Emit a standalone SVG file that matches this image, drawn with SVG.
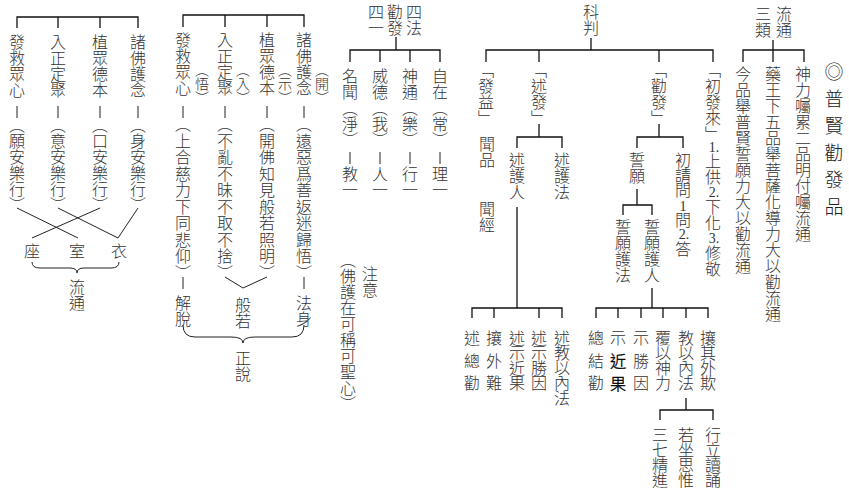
<svg xmlns="http://www.w3.org/2000/svg" width="849" height="491" viewBox="0 0 849 491">
<style>
.v{writing-mode:vertical-rl;font-family:"Noto Sans CJK TC","Noto Sans CJK JP",sans-serif;font-size:16px;font-weight:300;fill:#333}
.s{font-size:14px}
.t{font-size:19px;letter-spacing:8px;fill:#222}
.w{letter-spacing:0.5px}
.n{letter-spacing:-1px}
.sp{letter-spacing:6.5px}
.d{font-family:"Liberation Serif",serif;font-size:14px;fill:#333;text-anchor:middle}
.dk{fill:#000;stroke:#000;stroke-width:0.4}
.ln{stroke:#111;stroke-width:1.3;fill:none}
.th{stroke:#222;stroke-width:1;fill:none}
</style>
<rect width="849" height="491" fill="#fff"/>
<g id="connectors">
<path class="ln" d="M17,28V17H138V28M58,17V28M100,17V28"/>
<path class="th" d="M17,106V118M58,106V118M100,106V118M138,106V118"/>
<path class="th" d="M17,208L78,238M58,208L118,238M100,208L32,238M138,208L118,238"/>
<path class="th" d="M32,262Q32,268 40,268L70,268Q77,268 77,273Q77,268 84,268L111,268Q119,268 119,262"/>
<path class="ln" d="M183,27V15H304V27M225,15V27M267,15V27"/>
<path class="th" d="M183,106V118M225,106V118M267,106V118M304,106V118"/>
<path class="th" d="M183,277V289M304,277V289"/>
<path class="th" d="M225,277L243,288L267,277"/>
<path class="th" d="M183,325Q183,337 195,337L231,337Q243,337 243,343Q243,337 255,337L292,337Q304,337 304,325"/>
<path class="ln" d="M396,37V50M350,62V50H440V62M380,50V62M410,50V62"/>
<path class="th" d="M350,152V164M380,152V164M410,152V164M440,152V164"/>
<path class="ln" d="M591,38V50M486,62V50H713V62M539,50V62M659,50V62"/>
<path class="ln" d="M539,124V137M517,148V137H562V148"/>
<path class="ln" d="M517,207V308M472,318V308H562V318M494,308V318M539,308V318"/>
<path class="ln" d="M659,124V137M637,148V137H683V148"/>
<path class="ln" d="M637,189V205M623,215V205H652V215"/>
<path class="ln" d="M652,288V308M596,318V308H708V318M618,308V318M641,308V318M663,308V318M686,308V318"/>
<path class="ln" d="M686,398V410M660,420V410H713V420"/>
<path class="ln" d="M773,40V62M743,62V50H804V62"/>
</g>
<g id="n-liutong-left">
<text class="v" x="17" y="34">發救眾心</text>
<text class="v" x="17" y="117">︵願安樂行︶</text>
<text class="v" x="58" y="34">入正定聚</text>
<text class="v" x="58" y="117">︵意安樂行︶</text>
<text class="v" x="100" y="34">植眾德本</text>
<text class="v" x="100" y="117">︵口安樂行︶</text>
<text class="v" x="138" y="34">諸佛護念</text>
<text class="v" x="138" y="117">︵身安樂行︶</text>
</g>
<g id="n-zuo"><text class="v" x="32" y="243">座</text></g>
<g id="n-shi"><text class="v" x="77" y="243">室</text></g>
<g id="n-yi"><text class="v" x="119" y="243">衣</text></g>
<g id="n-liutong"><text class="v" x="77" y="279">流通</text></g>
<g id="n-zhengshuo-cols">
<text class="v" x="183" y="32">發救眾心</text>
<text class="v s" x="202" y="63">︵悟︶</text>
<text class="v w" x="183" y="116">︵上合慈力下同悲仰︶</text>
<text class="v" x="225" y="32">入正定聚</text>
<text class="v s" x="243" y="63">︵入︶</text>
<text class="v w" x="225" y="116">︵不亂不昧不取不捨︶</text>
<text class="v" x="267" y="32">植眾德本</text>
<text class="v s" x="285" y="63">︵示︶</text>
<text class="v w" x="267" y="116">︵開佛知見般若照明︶</text>
<text class="v" x="304" y="32">諸佛護念</text>
<text class="v s" x="322" y="63">︵開︶</text>
<text class="v w" x="304" y="116">︵遠惡爲善返迷歸悟︶</text>
</g>
<g id="n-jietuo"><text class="v" x="183" y="295">解脫</text></g>
<g id="n-bore"><text class="v" x="243" y="297">般若</text></g>
<g id="n-fashen"><text class="v" x="304" y="295">法身</text></g>
<g id="n-zhengshuo"><text class="v" x="243" y="350">正說</text></g>
<g id="n-sifa">
<text class="v" x="414" y="4">四法</text>
<text class="v" x="395" y="4">勸發</text>
<text class="v" x="376" y="4">四一</text>
</g>
<g id="n-sifa-cols">
<text class="v" x="350" y="68">名聞︵淨︶</text><text class="v" x="350" y="166">教一</text>
<text class="v" x="380" y="68">威德︵我︶</text><text class="v" x="380" y="166">人一</text>
<text class="v" x="410" y="68">神通︵樂︶</text><text class="v" x="410" y="166">行一</text>
<text class="v" x="440" y="68">自在︵常︶</text><text class="v" x="440" y="166">理一</text>
</g>
<g id="n-zhuyi">
<text class="v" x="348" y="252">︵佛護在可稱可聖心︶</text>
<text class="v" x="370" y="266">注意</text>
</g>
<g id="n-kepan"><text class="v" x="591" y="4">科判</text></g>
<g id="n-fayi">
<text class="v" x="486" y="62">﹁發益﹂</text>
<text class="v" x="487" y="136">聞品</text>
<text class="v" x="487" y="201">聞經</text>
</g>
<g id="n-shufa"><text class="v" x="539" y="62">﹁述發﹂</text></g>
<g id="n-shuhuren"><text class="v" x="517" y="152">述護人</text></g>
<g id="n-shuhufa"><text class="v" x="562" y="152">述護法</text></g>
<g id="n-shu-children">
<text class="v sp" x="472" y="330">述總勸</text>
<text class="v sp" x="494" y="330">攘外難</text>
<text class="v n" x="517" y="330">述示近果</text>
<text class="v n" x="539" y="330">述示勝因</text>
<text class="v n" x="562" y="330">述教以內法</text>
</g>
<g id="n-quanfa"><text class="v" x="659" y="62">﹁勸發﹂</text></g>
<g id="n-shiyuan"><text class="v" x="637" y="152">誓願</text></g>
<g id="n-chuqing">
<text class="v n" x="683" y="152">初請問</text>
<text class="d" x="683" y="211">1</text>
<text class="v" x="683" y="212">問</text>
<text class="d" x="684" y="239">2.</text>
<text class="v" x="683" y="241">答</text>
</g>
<g id="n-chufalai">
<text class="v" x="713" y="62">﹁初發來﹂</text>
<text class="d" x="714" y="152">1.</text>
<text class="v" x="713" y="153">上供</text>
<text class="d" x="714" y="197">2.</text>
<text class="v" x="713" y="199">下化</text>
<text class="d" x="714" y="243">3.</text>
<text class="v" x="713" y="245">修敬</text>
</g>
<g id="n-shiyuanhufa"><text class="v" x="623" y="219">誓願護法</text></g>
<g id="n-shiyuanhuren"><text class="v" x="652" y="219">誓願護人</text></g>
<g id="n-shiyuan-children">
<text class="v sp" x="596" y="330">總結勸</text>
<text class="v sp" x="618" y="330">示<tspan class="dk">近果</tspan></text>
<text class="v sp" x="641" y="330">示勝因</text>
<text class="v n" x="663" y="330">覆以神力</text>
<text class="v n" x="686" y="330">教以內法</text>
<text class="v n" x="708" y="330">攘其外欺</text>
</g>
<g id="n-jiaoyi-children">
<text class="v n" x="660" y="427">三七精進</text>
<text class="v n" x="686" y="427">若坐思惟</text>
<text class="v n" x="713" y="427">行立讀誦</text>
</g>
<g id="n-liutong-sanlei">
<text class="v" x="784" y="6">流通</text>
<text class="v" x="763" y="6">三類</text>
</g>
<g id="n-jinpin"><text class="v" x="743" y="66">今品舉普賢誓願力大以勸流通</text></g>
<g id="n-yaowang"><text class="v" x="773" y="66">藥王下五品舉菩薩化導力大以勸流通</text></g>
<g id="n-shenli"><text class="v" x="803" y="66">神力囑累二品明付囑流通</text></g>
<g id="n-title"><text class="v t" x="834" y="62">◎普賢勸發品</text></g>
</svg>
